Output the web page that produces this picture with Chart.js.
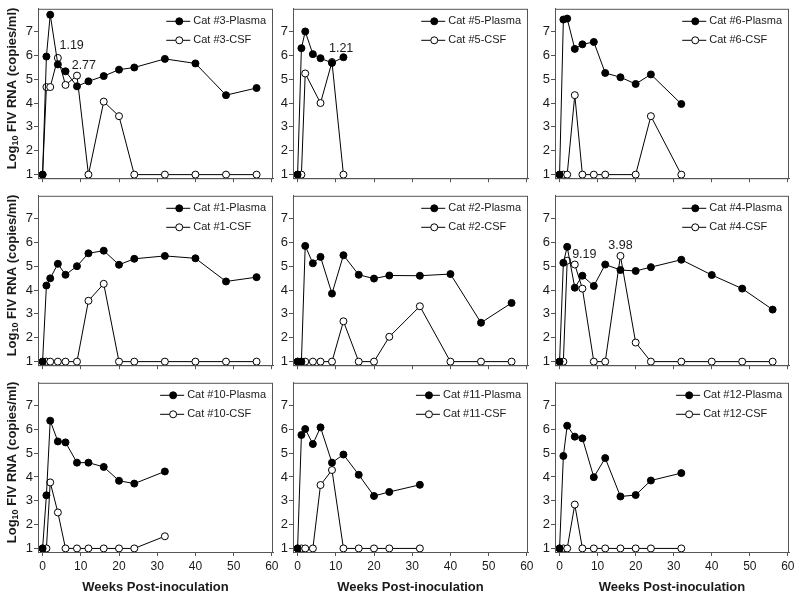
<!DOCTYPE html>
<html>
<head>
<meta charset="utf-8">
<script src="https://cdn.jsdelivr.net/npm/chart.js@4.4.1/dist/chart.umd.min.js"></script>
<style>
  html, body { margin: 0; padding: 0; background: #fff; }
  #wrap { position: relative; width: 800px; height: 597px; overflow: hidden; }
  #wrap div { position: absolute; }
  canvas { display: block; }
</style>
</head>
<body>
<div id="wrap"></div>
<script>
// sampling weeks
const weeksLong = [0, 1, 2, 4, 6, 9, 12, 16, 20, 24, 32, 40, 48, 56];
const weeksShort = [0, 1, 2, 4, 6, 9, 12, 16, 20, 24, 32];
const weeksCat5 = [0, 1, 2, 4, 6, 9, 12];
const weeksCat5Csf = [0, 1, 2, 6, 9, 12];
const weeksCat6Csf = [0, 1, 2, 4, 6, 9, 12, 20, 24, 32];

// log10 FIV RNA (copies/ml)
const cat3Plasma = [1, 5.95, 7.7, 5.62, 5.33, 4.7, 4.91, 5.13, 5.4, 5.49, 5.85, 5.66, 4.33, 4.63];
const cat3Csf = [1, 4.67, 4.67, 5.89, 4.76, 5.15, 1, 4.06, 3.45, 1, 1, 1, 1, 1];
const cat5Plasma = [1, 6.3, 7.0, 6.05, 5.88, 5.68, 5.92];
const cat5Csf = [1, 1, 5.24, 4.0, 5.72, 1];
const cat6Plasma = [1, 7.5, 7.54, 6.27, 6.46, 6.56, 5.26, 5.08, 4.8, 5.2, 3.96];
const cat6Csf = [1, 1, 1, 4.33, 1, 1, 1, 1, 3.45, 1];
const cat1Plasma = [1, 4.19, 4.49, 5.1, 4.64, 5.0, 5.54, 5.65, 5.06, 5.31, 5.43, 5.33, 4.36, 4.54];
const cat1Csf = [1, 1, 1, 1, 1, 1, 3.55, 4.26, 1, 1, 1, 1, 1, 1];
const cat2Plasma = [1, 1, 5.85, 5.12, 5.39, 3.85, 5.46, 4.64, 4.48, 4.61, 4.6, 4.67, 2.63, 3.46];
const cat2Csf = [1, 1, 1, 1, 1, 1, 2.69, 1, 1, 2.04, 3.32, 1, 1, 1];
const cat4Plasma = [1, 5.14, 5.81, 4.1, 4.6, 4.17, 5.07, 4.84, 4.8, 4.96, 5.27, 4.63, 4.06, 3.18];
const cat4Csf = [1, 1, 5.23, 5.07, 4.06, 1, 1, 5.43, 1.8, 1, 1, 1, 1, 1];
const cat10Plasma = [1, 3.23, 6.36, 5.49, 5.45, 4.6, 4.6, 4.42, 3.84, 3.72, 4.23];
const cat10Csf = [1, 1, 3.77, 2.51, 1, 1, 1, 1, 1, 1, 1.51];
const cat11Plasma = [1, 5.76, 6.01, 5.38, 6.08, 4.6, 4.94, 4.09, 3.2, 3.37, 3.67];
const cat11Csf = [1, 1, 1, 1, 3.66, 4.29, 1, 1, 1, 1, 1];
const cat12Plasma = [1, 4.88, 6.15, 5.69, 5.62, 3.99, 4.79, 3.18, 3.24, 3.85, 4.16];
const cat12Csf = [1, 1, 1, 2.84, 1, 1, 1, 1, 1, 1, 1];

// numbers printed next to some CSF points: [text, week, log value]
const cat3Notes = [['1.19', 7.6, 6.4], ['2.77', 10.8, 5.58]];
const cat5Notes = [['1.21', 11.4, 6.3]];
const cat4Notes = [['9.19', 6.5, 5.47], ['3.98', 16.0, 5.88]];

const xTicks = [0, 10, 20, 30, 40, 50, 60];
const yTicks = [1, 2, 3, 4, 5, 6, 7];

const panels = [
  { cat: '3', pw: weeksLong, plasma: cat3Plasma, cw: weeksLong, csf: cat3Csf, notes: cat3Notes },
  { cat: '5', pw: weeksCat5, plasma: cat5Plasma, cw: weeksCat5Csf, csf: cat5Csf, notes: cat5Notes },
  { cat: '6', pw: weeksShort, plasma: cat6Plasma, cw: weeksCat6Csf, csf: cat6Csf, notes: [] },
  { cat: '1', pw: weeksLong, plasma: cat1Plasma, cw: weeksLong, csf: cat1Csf, notes: [] },
  { cat: '2', pw: weeksLong, plasma: cat2Plasma, cw: weeksLong, csf: cat2Csf, notes: [] },
  { cat: '4', pw: weeksLong, plasma: cat4Plasma, cw: weeksLong, csf: cat4Csf, notes: cat4Notes },
  { cat: '10', pw: weeksShort, plasma: cat10Plasma, cw: weeksShort, csf: cat10Csf, notes: [] },
  { cat: '11', pw: weeksShort, plasma: cat11Plasma, cw: weeksShort, csf: cat11Csf, notes: [] },
  { cat: '12', pw: weeksShort, plasma: cat12Plasma, cw: weeksShort, csf: cat12Csf, notes: [] }
];

const family = 'Arial, "Liberation Sans", sans-serif';
const ink = '#1a1a1a';
const frameColor = '#555';

// plot frames in page pixels
const colLeft = [38, 293, 555];
const colRight = [273, 528, 789];
const rowTop = [5, 192, 379];
const rowBottom = [179, 366, 552];

const toXY = (xs, ys) => xs.map((x, i) => ({ x: x, y: ys[i] }));

const framePlugin = {
  id: 'frame',
  afterDraw(chart) {
    const { ctx, chartArea: a } = chart;
    ctx.save();
    ctx.strokeStyle = frameColor;
    ctx.lineWidth = 1;
    ctx.strokeRect(a.left + 0.5, a.top + 0.5, a.right - a.left - 1, a.bottom - a.top);
    ctx.restore();
  }
};

const insideLegend = {
  id: 'insideLegend',
  afterDatasetsDraw(chart) {
    const { ctx, chartArea: a } = chart;
    const ds = chart.data.datasets;
    ctx.save();
    ctx.font = '11px ' + family;
    const textW = Math.max(...ds.map(d => ctx.measureText(d.label).width));
    const textX = a.right - 7 - textW;
    ds.forEach((d, i) => {
      const y = a.top + 12.5 + i * 19;
      const x1 = textX - 27, x2 = textX - 3;
      ctx.strokeStyle = '#000';
      ctx.lineWidth = 1;
      ctx.beginPath();
      ctx.moveTo(x1, y);
      ctx.lineTo(x2, y);
      ctx.stroke();
      ctx.beginPath();
      ctx.arc((x1 + x2) / 2 + 1, y, 3.5, 0, Math.PI * 2);
      ctx.fillStyle = d.pointBackgroundColor;
      ctx.fill();
      ctx.stroke();
      ctx.fillStyle = ink;
      ctx.textBaseline = 'middle';
      ctx.textAlign = 'left';
      ctx.fillText(d.label, textX, y);
    });
    ctx.restore();
  }
};

const notesPlugin = {
  id: 'notes',
  afterDatasetsDraw(chart, args, opts) {
    const { ctx, scales } = chart;
    ctx.save();
    ctx.font = '12.5px ' + family;
    ctx.fillStyle = ink;
    ctx.textAlign = 'center';
    ctx.textBaseline = 'middle';
    (opts.items || []).forEach(([t, x, y]) => {
      ctx.fillText(t, scales.x.getPixelForValue(x), scales.y.getPixelForValue(y));
    });
    ctx.restore();
  }
};

const yTitlePlugin = {
  id: 'yTitle',
  afterDraw(chart, args, opts) {
    if (!opts.show) return;
    const { ctx, chartArea: a } = chart;
    const big = 'bold 13px ' + family, small = 'bold 9px ' + family;
    const parts = [['Log', big, 0], ['10', small, 3.5], [' FIV RNA (copies/ml)', big, 0]];
    ctx.save();
    ctx.translate(12, (a.top + a.bottom) / 2 - 5);
    ctx.rotate(-Math.PI / 2);
    ctx.fillStyle = ink;
    ctx.textBaseline = 'middle';
    let total = 0;
    parts.forEach(p => { ctx.font = p[1]; total += ctx.measureText(p[0]).width; });
    let x = -total / 2;
    parts.forEach(p => {
      ctx.font = p[1];
      ctx.fillText(p[0], x, p[2]);
      x += ctx.measureText(p[0]).width;
    });
    ctx.restore();
  }
};

const wrap = document.getElementById('wrap');

panels.forEach((p, idx) => {
  const col = idx % 3, row = Math.floor(idx / 3);
  const axisW = 38, padTop = 5, padRight = 10;
  const bottomH = row === 2 ? 45 : 8;
  const w = axisW + (colRight[col] - colLeft[col]) + padRight;
  const h = padTop + (rowBottom[row] - rowTop[row]) + bottomH;

  const box = document.createElement('div');
  box.style.left = (colLeft[col] - axisW) + 'px';
  box.style.top = (rowTop[row] - padTop) + 'px';
  const cv = document.createElement('canvas');
  cv.width = w;
  cv.height = h;
  box.appendChild(cv);
  wrap.appendChild(box);

  const pointStyle = fill => ({
    borderColor: '#000',
    borderWidth: 1,
    pointRadius: 3.5,
    pointBorderWidth: 1,
    pointBorderColor: '#000',
    pointBackgroundColor: fill,
    tension: 0,
    clip: false
  });

  new Chart(cv, {
    type: 'line',
    data: {
      datasets: [
        Object.assign({ label: 'Cat #' + p.cat + '-Plasma', data: toXY(p.pw, p.plasma) }, pointStyle('#000')),
        Object.assign({ label: 'Cat #' + p.cat + '-CSF', data: toXY(p.cw, p.csf) }, pointStyle('#fff'))
      ]
    },
    options: {
      responsive: false,
      animation: false,
      layout: { padding: { top: padTop, right: padRight, left: 0, bottom: 0 } },
      plugins: {
        legend: { display: false },
        tooltip: { enabled: false },
        notes: { items: p.notes },
        yTitle: { show: col === 0 }
      },
      scales: {
        x: {
          type: 'linear',
          min: -1.2,
          max: 60.3,
          afterBuildTicks: s => { s.ticks = xTicks.map(v => ({ value: v })); },
          afterFit: s => { s.height = bottomH; },
          grid: { drawOnChartArea: false, drawTicks: true, tickLength: 4, color: frameColor },
          border: { color: frameColor },
          ticks: { display: row === 2, color: ink, padding: 3, maxRotation: 0, font: { size: 12, family: family } },
          title: {
            display: row === 2,
            text: 'Weeks Post-inoculation',
            color: ink,
            font: { size: 13, weight: 'bold', family: family },
            padding: { top: 0, bottom: 2 }
          }
        },
        y: {
          min: 0.85,
          max: 7.95,
          afterBuildTicks: s => { s.ticks = yTicks.map(v => ({ value: v })); },
          afterFit: s => { s.width = axisW; },
          grid: { drawOnChartArea: false, drawTicks: true, tickLength: 4, color: frameColor },
          border: { color: frameColor },
          ticks: { color: ink, padding: 1, font: { size: 13, family: family } }
        }
      }
    },
    plugins: [framePlugin, insideLegend, notesPlugin, yTitlePlugin]
  });
});
</script>
</body>
</html>
